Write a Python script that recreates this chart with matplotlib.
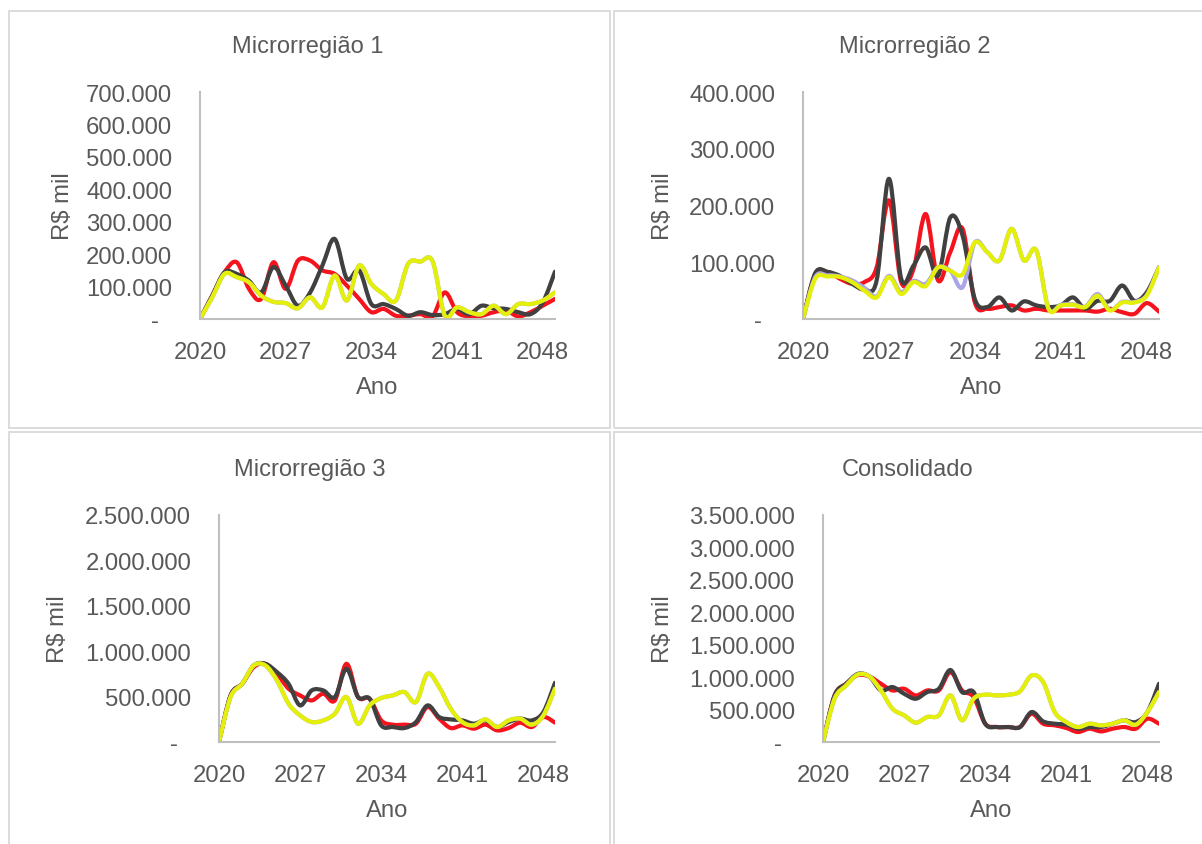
import matplotlib
matplotlib.use('Agg')
import matplotlib.pyplot as plt
from matplotlib.path import Path
from matplotlib.patches import PathPatch, Rectangle
from matplotlib.ticker import FuncFormatter, MultipleLocator
import numpy as np

plt.rcParams['font.family'] = ['Liberation Sans', 'DejaVu Sans']

RED = '#f5141e'
DARK = '#404040'
LAVENDER = '#aaa5e6'
YELLOW = '#e4f00a'
TXT = '#595959'
AXIS = '#bfbfbf'
BORDER = '#d9d9d9'

years = list(range(2020, 2050))
xticks = [2020, 2027, 2034, 2041, 2048]

# valores em R$ mil
m1_red = [0, 72, 144, 175, 93, 62, 175, 93, 180, 180, 150, 139, 103, 62, 21,
          31, 10, 10, 15, 8, 82, 21, 8, 10, 21, 26, 8, 21, 41, 62]
m1_dark = [0, 72, 144, 139, 118, 82, 160, 103, 41, 82, 165, 247, 124, 150, 46,
           46, 31, 10, 21, 12, 15, 31, 15, 41, 33, 31, 21, 15, 51, 146]
m1_lav = [0, 67, 139, 129, 113, 72, 53, 49, 33, 67, 36, 134, 57, 165, 108,
          77, 57, 170, 177, 178, 10, 36, 21, 15, 41, 15, 46, 46, 57, 82]
m1_yel = [0, 67, 139, 129, 113, 72, 53, 49, 33, 67, 36, 134, 57, 165, 108,
          77, 57, 170, 177, 178, 10, 36, 21, 15, 41, 15, 46, 46, 57, 82]

m2_red = [0, 79, 83, 71, 62, 65, 91, 209, 65, 88, 185, 68, 118, 159, 29,
          18, 21, 24, 15, 18, 15, 15, 15, 15, 13, 18, 12, 9, 28, 13]
m2_dark = [0, 81, 83, 76, 62, 52, 68, 247, 71, 94, 126, 76, 179, 147, 35,
           21, 38, 15, 31, 24, 21, 24, 38, 18, 32, 32, 59, 32, 47, 91]
m2_lav = [0, 74, 77, 75, 68, 55, 40, 76, 47, 67, 62, 91, 85, 56, 135,
          118, 103, 159, 103, 121, 19, 25, 26, 22, 44, 16, 30, 30, 42, 92]
m2_yel = [0, 71, 75, 74, 65, 50, 38, 74, 44, 65, 58, 91, 85, 79, 135,
          118, 103, 159, 103, 121, 18, 24, 25, 21, 41, 15, 29, 29, 41, 91]

m3_red = [0, 513, 641, 825, 861, 751, 587, 513, 458, 532, 458, 861, 495, 477, 238,
          191, 191, 202, 385, 257, 154, 183, 147, 191, 128, 154, 213, 165, 275, 213]
m3_dark = [0, 513, 641, 843, 861, 770, 641, 403, 568, 568, 495, 806, 495, 477, 183,
           165, 154, 220, 403, 275, 249, 238, 202, 238, 165, 220, 257, 238, 330, 652]
m3_lav = [0, 495, 641, 843, 843, 678, 422, 293, 220, 238, 312, 495, 202, 403, 484,
          513, 550, 440, 751, 605, 367, 220, 183, 249, 165, 238, 257, 191, 293, 587]
m3_yel = [0, 495, 641, 843, 843, 678, 422, 293, 220, 238, 312, 495, 202, 403, 484,
          513, 550, 440, 751, 605, 367, 220, 183, 249, 165, 238, 257, 191, 293, 587]

c_red = [0, 718, 898, 1030, 1010, 898, 795, 821, 718, 795, 795, 1078, 795, 693, 282,
         231, 231, 231, 436, 282, 257, 216, 154, 205, 164, 205, 231, 205, 359, 282]
c_dark = [0, 718, 898, 1050, 1010, 795, 847, 744, 667, 770, 821, 1110, 770, 770, 282,
          231, 231, 231, 462, 318, 282, 267, 205, 231, 231, 282, 334, 308, 462, 898]
c_lav = [0, 667, 872, 1040, 1010, 795, 513, 411, 298, 385, 411, 718, 334, 667, 729,
         718, 729, 780, 1026, 924, 462, 308, 231, 282, 257, 282, 334, 267, 462, 770]
c_yel = [0, 667, 872, 1040, 1010, 795, 513, 411, 298, 385, 411, 718, 334, 667, 729,
         718, 729, 780, 1026, 924, 462, 308, 231, 282, 257, 282, 334, 267, 462, 770]

panels = [
    ('Microrregião 1', [m1_red, m1_dark, m1_lav, m1_yel], 700000, 100000),
    ('Microrregião 2', [m2_red, m2_dark, m2_lav, m2_yel], 400000, 100000),
    ('Microrregião 3', [m3_red, m3_dark, m3_lav, m3_yel], 2500000, 500000),
    ('Consolidado', [c_red, c_dark, c_lav, c_yel], 3500000, 500000),
]
colors = [RED, DARK, LAVENDER, YELLOW]

W, H = 1202, 845
fig = plt.figure(figsize=(W / 100, H / 100), dpi=100)
fig.patch.set_facecolor('white')

# caixas das áreas de gráfico (pixels)
boxes = [(9, 12, 610, 429), (614, 12, 1210, 429), (9, 433, 610, 860), (614, 433, 1210, 860)]
for x0, y0, x1, y1 in boxes:
    fig.patches.append(Rectangle((x0 / W, 1 - y1 / H), (x1 - x0) / W, (y1 - y0) / H,
                                 transform=fig.transFigure, facecolor='none',
                                 edgecolor=BORDER, linewidth=1.3, zorder=0))

# posições dos eixos (pixels): x0, x1, ytop, ybottom
axpos = [(200, 555, 93, 320), (803, 1159, 93, 320), (219, 555, 516, 743), (823, 1159, 516, 743)]
titles_xy = [(308, 47), (915, 47), (310, 470), (908, 470)]
ylab_x = [-0.355, -0.362, -0.445, -0.442]


def smooth_path(x, y):
    # curva suavizada estilo Excel (Catmull-Rom em Bezier)
    p = np.column_stack([x, y]).astype(float)
    n = len(p)
    verts = [p[0]]
    codes = [Path.MOVETO]
    for i in range(n - 1):
        p0 = p[i - 1] if i > 0 else p[i]
        p1 = p[i]
        p2 = p[i + 1]
        p3 = p[i + 2] if i + 2 < n else p[i + 1]
        c1 = p1 + (p2 - p0) / 6.0
        c2 = p2 - (p3 - p1) / 6.0
        verts += [c1, c2, p2]
        codes += [Path.CURVE4] * 3
    return Path(verts, codes)


def fmt(v, pos):
    if abs(v) < 1e-9:
        return '-  '
    return f'{int(round(v)):,}'.replace(',', '.')


for k, (title, series, ymax, step) in enumerate(panels):
    x0, x1, yt, yb = axpos[k]
    ax = fig.add_axes([x0 / W, 1 - yb / H, (x1 - x0) / W, (yb - yt) / H])
    for s, c in zip(series, colors):
        vals = np.array(s) * 1000.0
        ax.add_patch(PathPatch(smooth_path(years, vals), facecolor='none', edgecolor=c,
                               linewidth=3.0, capstyle='round', joinstyle='round'))
    ax.set_xlim(2020, 2049)
    ax.set_ylim(0, ymax)
    ax.set_xticks(xticks)
    ax.yaxis.set_major_locator(MultipleLocator(step))
    ax.yaxis.set_major_formatter(FuncFormatter(fmt))
    for side in ['top', 'right']:
        ax.spines[side].set_visible(False)
    for side in ['left', 'bottom']:
        ax.spines[side].set_color(AXIS)
        ax.spines[side].set_linewidth(1.5)
    ax.tick_params(axis='both', length=0, labelsize=17.2, labelcolor=TXT)
    ax.tick_params(axis='y', pad=20)
    ax.tick_params(axis='x', pad=16)
    ax.set_xlabel('Ano', fontsize=17.2, color=TXT)
    ax.set_ylabel('R$ mil', fontsize=17.2, color=TXT)
    ax.xaxis.set_label_coords(0.5, -0.25)
    ax.yaxis.set_label_coords(ylab_x[k], 0.5)
    ax.set_facecolor('none')
    tx, ty = titles_xy[k]
    fig.text(tx / W, 1 - ty / H, title, ha='center', va='center', fontsize=17, color=TXT)

fig.savefig('out.png', dpi=100, facecolor='white')
